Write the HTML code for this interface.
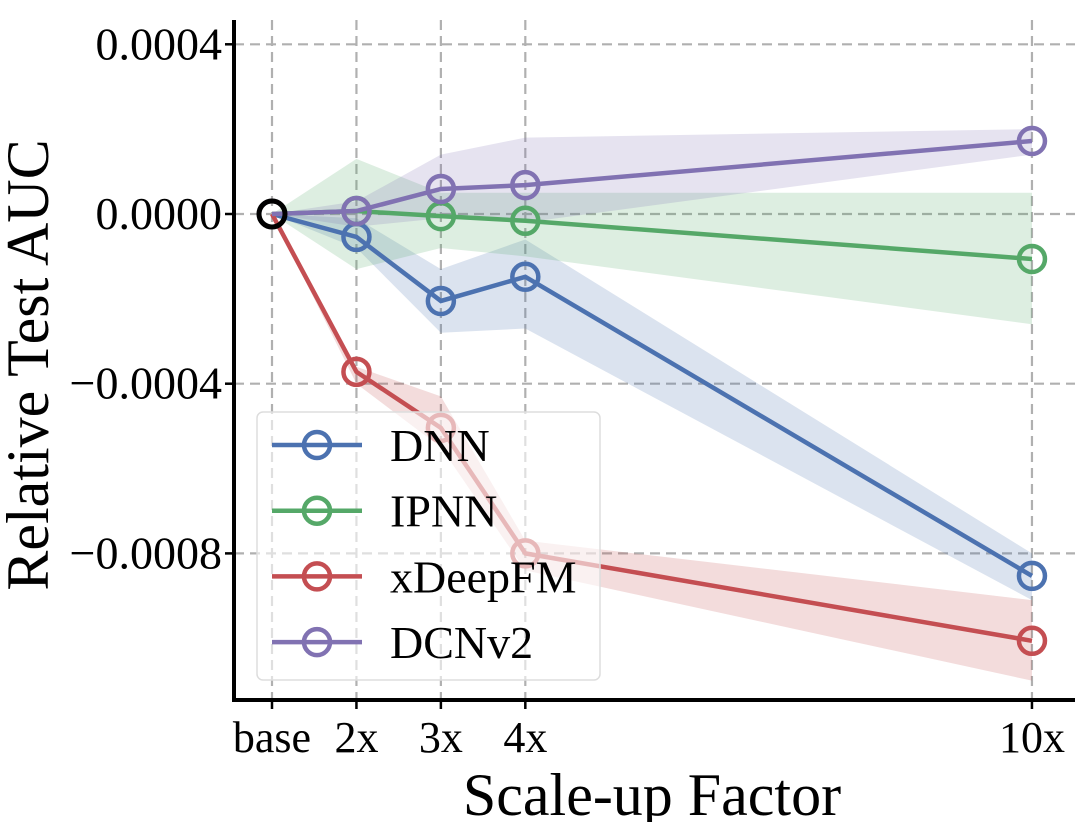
<!DOCTYPE html>
<html><head><meta charset="utf-8"><style>
body{margin:0;background:#fff}
svg{display:block;font-family:"Liberation Serif",serif}
</style></head><body>
<svg id="chart" width="1080" height="822">
<g id="grid"></g>
<g id="bands"></g>
<g id="lines"></g>
<g id="axes"></g>
<g id="legend"></g>
<text x="0" y="0" transform="translate(48,365) rotate(-90)" text-anchor="middle" font-size="60">Relative Test AUC</text>
<text x="652" y="815" text-anchor="middle" font-size="60">Scale-up Factor</text>
</svg>
<script>
const xs = [1, 2, 3, 4, 10];
const xLabels = ["base", "2x", "3x", "4x", "10x"];
const yTicks = [0.0004, 0, -0.0004, -0.0008];
const yTickLabels = ["0.0004", "0.0000", "\u22120.0004", "\u22120.0008"];
const seriesNames = ["DNN", "IPNN", "xDeepFM", "DCNv2"];
const colors = ["#4c72b0", "#55a868", "#c44e52", "#8172b2"];
const dnn = [0, -0.000054, -0.000205, -0.000148, -0.000853];
const dnnLo = [0, -0.00008, -0.00028, -0.00027, -0.00091];
const dnnHi = [0, -0.00001, -0.00013, -0.00006, -0.00080];
const ipnn = [0, 0.000007, -0.000005, -0.000016, -0.000106];
const ipnnLo = [0, -0.00013, -0.00008, -0.0001, -0.00026];
const ipnnHi = [0, 0.00013, 0.00005, 0.00005, 0.00005];
const xdfm = [0, -0.000372, -0.000504, -0.0008, -0.001006];
const xdfmLo = [0, -0.0004, -0.00055, -0.00084, -0.0011];
const xdfmHi = [0, -0.00036, -0.00043, -0.00077, -0.00091];
const dcn = [0, 0.000007, 0.000059, 0.000068, 0.000172];
const dcnLo = [0, -0.00003, -0.00001, -0.00002, 0.00014];
const dcnHi = [0, 0.00003, 0.00014, 0.00018, 0.0002];

const NS = "http://www.w3.org/2000/svg";
const L = 234, B = 700, T = 20, R = 1075;
function sx(v){ return 272 + (v - 1) * 84.44; }
function sy(v){ return 214 - v * 424250; }
function mk(tag, attrs, parent){ const e = document.createElementNS(NS, tag); for (const k in attrs) e.setAttribute(k, attrs[k]); parent.appendChild(e); return e; }
const grid = document.getElementById('grid'), bands = document.getElementById('bands'), lines = document.getElementById('lines'), axes = document.getElementById('axes'), legend = document.getElementById('legend');

xs.forEach((x, i) => {
  const g = mk('line', {x1: sx(x), x2: sx(x), y1: T, y2: B, stroke: '#b0b0b0', 'stroke-width': 2.2, 'stroke-dasharray': '10,6'}, grid);
  
  
  const t = mk('line', {x1: sx(x), x2: sx(x), y1: B, y2: B + 9, stroke: '#000', 'stroke-width': 2.5}, axes);
  
  
  const lb = mk('text', {x: sx(x), y: 752, 'text-anchor': 'middle', 'font-size': 44}, axes);
  lb.textContent = xLabels[i];
  
  
});
yTicks.forEach((v, i) => {
  const g = mk('line', {x1: L, x2: R, y1: sy(v), y2: sy(v), stroke: '#b0b0b0', 'stroke-width': 2.2, 'stroke-dasharray': '10,6'}, grid);
  
  
  const t = mk('line', {x1: L - 9, x2: L, y1: sy(v), y2: sy(v), stroke: '#000', 'stroke-width': 2.5}, axes);
  
  
  const lb = mk('text', {x: 222, y: sy(v) + 15, 'text-anchor': 'end', 'font-size': 46}, axes);
  lb.textContent = yTickLabels[i];
  
  
});
const sp = mk('path', {d: `M${L},${T} V${B} H${R}`, fill: 'none', stroke: '#000', 'stroke-width': 4}, axes);



const data = [[dnn, dnnLo, dnnHi], [ipnn, ipnnLo, ipnnHi], [xdfm, xdfmLo, xdfmHi], [dcn, dcnLo, dcnHi]];
data.forEach((d, si) => {
  const [m, lo, hi] = d;
  let p = xs.map((x, i) => `${i ? 'L' : 'M'}${sx(x)},${sy(hi[i])}`).join(' ');
  for (let i = xs.length - 1; i >= 0; i--) p += ` L${sx(xs[i])},${sy(lo[i])}`;
  const band = mk('path', {d: p + 'Z', fill: colors[si], 'fill-opacity': 0.2}, bands);
  
  
});
data.forEach((d, si) => {
  const m = d[0];
  const ln = mk('polyline', {points: xs.map((x, i) => `${sx(x)},${sy(m[i])}`).join(' '), fill: 'none', stroke: colors[si], 'stroke-width': 4.5}, lines);
  
  
  xs.forEach((x, i) => {
    const c = mk('circle', {cx: sx(x), cy: sy(m[i]), r: 13, fill: 'none', stroke: colors[si], 'stroke-width': 4.5}, lines);
    
    
  });
});
const bm = mk('circle', {cx: sx(xs[0]), cy: sy(0), r: 13, fill: 'none', stroke: '#000', 'stroke-width': 5}, lines);



const box = mk('rect', {x: 257, y: 412, width: 343, height: 268, rx: 6, fill: '#fff', 'fill-opacity': 0.6, stroke: '#ddd', 'stroke-width': 1.5}, legend);


seriesNames.forEach((n, i) => {
  const y = 445 + i * 65.7;
  const g = mk('g', {}, legend);
  
  
  mk('line', {x1: 272, x2: 362, y1: y, y2: y, stroke: colors[i], 'stroke-width': 4.5}, g);
  mk('circle', {cx: 317, cy: y, r: 13, fill: 'none', stroke: colors[i], 'stroke-width': 4.5}, g);
  const t = mk('text', {x: 390, y: y + 16, 'font-size': 46}, g);
  t.textContent = n;
});
</script>
</body></html>
